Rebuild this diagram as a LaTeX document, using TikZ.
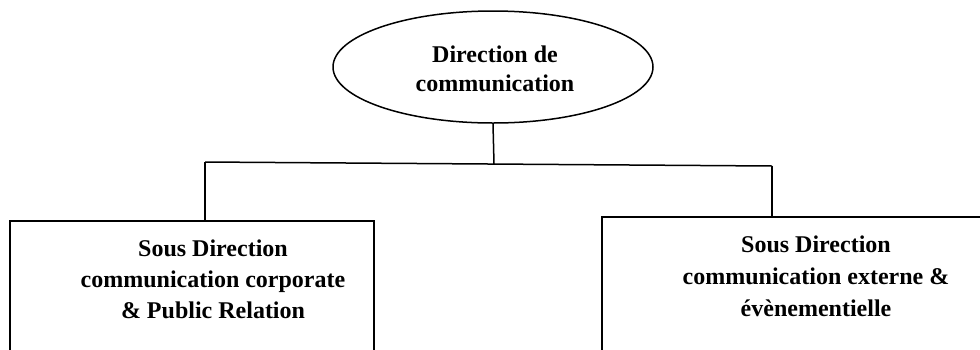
\documentclass[tikz,border=0pt]{standalone}
\usepackage{fontspec}
\setmainfont{Liberation Serif}
\usetikzlibrary{shapes.geometric}
\begin{document}
\begin{tikzpicture}[x=1pt,y=-1pt,
  line/.style={line width=1.5pt},
  orgbox/.style={draw,line width=1.5pt,rectangle,inner sep=0pt},
  lbl/.style={font=\bfseries\fontsize{24}{31}\selectfont,inner sep=0pt}]
\clip (0,0) rectangle (980,349);
\fill[white] (0,0) rectangle (980,349);
\node[draw,line width=1.5pt,ellipse,minimum width=320pt,minimum height=112pt,inner sep=0pt] (dir) at (493,67) {};
\node[lbl,align=center,font=\bfseries\fontsize{24}{29}\selectfont] (dirtxt) at (495,69) {Direction de\\communication};
\node[orgbox,minimum width=364pt,minimum height=160pt] (boxa) at (192,301) {};
\node[orgbox,minimum width=400pt,minimum height=170pt] (boxb) at (802,302) {};
\node[lbl,align=center] (txta) at (213,279) {Sous Direction\\communication corporate\\\& Public Relation};
\node[lbl,align=center,font=\bfseries\fontsize{24}{32}\selectfont] (txtb) at (816,276) {Sous Direction\\communication externe \&\\évènementielle};
\coordinate (hl) at (205,162);
\coordinate (hr) at (772,166);
\coordinate (hj) at (494,164);
\draw[line] (dir.south) -- (hj);
\draw[line] (hl) -- (hr);
\draw[line] (hl) -- (hl |- boxa.north);
\draw[line] (hr) -- (hr |- boxb.north);
\end{tikzpicture}
\end{document}
